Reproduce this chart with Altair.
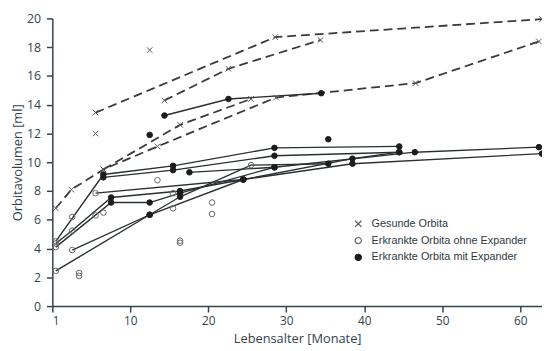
import altair as alt
import pandas as pd

# ---- data (months, volume ml) ----
# Healthy orbits (dashed lines)
h_series = ["H1", "H1", "H1",
            "H2", "H2", "H2",
            "H3", "H3", "H3", "H3", "H3", "H3", "H3",
            "H4", "H4", "H4"]
h_month = [6.0, 28.6, 62.8,
           14.4, 22.6, 34.4,
           1.4, 3.2, 6.9, 13.5, 28.7, 46.6, 62.4,
           6.9, 16.4, 25.5]
h_vol = [13.45, 18.7, 19.95,
         14.3, 16.5, 18.5,
         6.8, 8.1, 9.5, 11.1, 14.5, 15.5, 18.4,
         9.5, 12.6, 14.4]
h_iso_month = [6.0, 12.5]
h_iso_vol = [12.0, 17.8]

# Diseased orbits (solid lines); kind: o = ohne Expander, f = mit Expander
p_series = ["P1"] * 5 + ["P2"] * 7 + ["P3"] * 4 + ["P4"] * 7 + ["P5"] * 5 + ["P6"] * 5 + ["P7"] * 2 + ["P8"] * 2 + ["P9"] * 3
p_month = [1.4, 6.9, 15.5, 28.5, 44.5,
           1.4, 3.3, 7.8, 16.4, 24.5, 38.5, 44.5,
           6.9, 15.5, 28.5, 44.5,
           1.4, 7.8, 12.5, 16.4, 28.5, 46.5, 62.4,
           3.3, 12.5, 16.4, 25.5, 35.4,
           1.4, 12.5, 24.5, 38.5, 62.8,
           6.0, 24.5,
           17.6, 28.5,
           14.4, 22.6, 34.5]
p_vol = [4.5, 9.15, 9.75, 11.0, 11.1,
         4.35, 5.25, 7.55, 8.0, 8.8, 10.25, 10.7,
         8.95, 9.45, 10.45, 10.7,
         4.1, 7.2, 7.2, 7.85, 9.65, 10.7, 11.05,
         3.9, 6.35, 7.6, 9.8, 9.9,
         2.45, 6.35, 8.8, 9.9, 10.6,
         7.85, 8.8,
         9.3, 9.65,
         13.25, 14.4, 14.8]
p_kind = ["o", "f", "f", "f", "f",
          "o", "o", "f", "f", "f", "f", "f",
          "f", "f", "f", "f",
          "o", "f", "f", "f", "f", "f", "f",
          "o", "f", "f", "o", "f",
          "o", "f", "f", "f", "f",
          "o", "f",
          "f", "f",
          "f", "f", "f"]
# isolated points
o_iso_month = [3.3, 4.1, 4.1, 6.0, 6.9, 13.5, 15.5, 15.5, 16.4, 16.4, 20.5, 20.5]
o_iso_vol = [6.2, 2.3, 2.1, 6.3, 6.5, 8.75, 7.85, 6.8, 4.55, 4.4, 7.2, 6.4]
f_iso_month = [12.5, 35.4]
f_iso_vol = [11.9, 11.6]

LAB_H = "Gesunde Orbita"
LAB_O = "Erkrankte Orbita ohne Expander"
LAB_F = "Erkrankte Orbita mit Expander"

lines_h = pd.DataFrame({"s": h_series, "m": h_month, "v": h_vol})
lines_p = pd.DataFrame({"s": p_series, "m": p_month, "v": p_vol})

pts = pd.concat([
    pd.DataFrame({"m": h_month + h_iso_month, "v": h_vol + h_iso_vol, "k": LAB_H}),
    pd.DataFrame({"m": p_month, "v": p_vol,
                  "k": [LAB_O if k == "o" else LAB_F for k in p_kind]}),
    pd.DataFrame({"m": o_iso_month, "v": o_iso_vol, "k": LAB_O}),
    pd.DataFrame({"m": f_iso_month, "v": f_iso_vol, "k": LAB_F}),
], ignore_index=True)

AX = "#33434a"
FONT = "Open Sans"
LFONT = "Liberation Sans"

xscale = alt.Scale(domain=[1, 10, 62.8], range=[0, 79, 497], nice=False, zero=False)
yscale = alt.Scale(domain=[0, 20], nice=False, zero=True)

xenc = alt.X("m:Q", scale=xscale, title="Lebensalter [Monate]",
             axis=alt.Axis(values=[1, 10, 20, 30, 40, 50, 60], grid=False,
                           domainColor=AX, tickColor=AX, tickSize=6, labelColor=AX,
                           labelFontSize=12, labelFont=FONT, titleFont=FONT,
                           titleFontSize=13, titleFontWeight="normal", titleColor=AX,
                           labelPadding=4, titlePadding=6, domainWidth=1.5, tickWidth=1.5))
yenc = alt.Y("v:Q", scale=yscale, title="Orbitavolumen [ml]",
             axis=alt.Axis(values=list(range(0, 21, 2)), grid=False,
                           domainColor=AX, tickColor=AX, tickSize=6, labelColor=AX,
                           labelFontSize=12.5, labelFont=FONT, titleFont=FONT,
                           titleFontSize=13, titleFontWeight="normal", titleColor=AX,
                           labelPadding=6, titlePadding=2, domainWidth=1.5, tickWidth=1.5))

dashed = alt.Chart(lines_h).mark_line(strokeDash=[9, 5], strokeWidth=1.8, color="#3a3a3a").encode(
    x=xenc, y=yenc, detail="s:N")
solid = alt.Chart(lines_p).mark_line(strokeWidth=1.4, color="#2a2f31").encode(
    x=xenc, y=yenc, detail="s:N")

XPATH = "M-1,-1L1,1M-1,1L1,-1"
dom = [LAB_H, LAB_O, LAB_F]
legend = alt.Legend(title=None, orient="none", legendX=305, legendY=203,
                    labelFont=LFONT, labelFontSize=11, labelColor="#2e3a3f",
                    symbolStrokeWidth=1.2, symbolSize=40, rowPadding=4, labelOffset=8,
                    padding=0, labelLimit=0)
points = alt.Chart(pts).mark_point(strokeWidth=1, size=32, opacity=1).encode(
    x=xenc, y=yenc,
    shape=alt.Shape("k:N", scale=alt.Scale(domain=dom, range=[XPATH, "circle", "circle"]), legend=legend),
    fill=alt.Fill("k:N", scale=alt.Scale(domain=dom, range=["transparent", "transparent", "#1c1c1c"]), legend=legend),
    stroke=alt.Stroke("k:N", scale=alt.Scale(domain=dom, range=["#555555", "#666666", "#1c1c1c"]), legend=legend),
)

chart = alt.layer(dashed, solid, points).properties(
    width=497, height=292,
    autosize=alt.AutoSizeParams(type="none"),
    padding={"left": 45, "top": 8, "right": 0, "bottom": 43},
).configure_view(stroke=None)

chart.save("out.html", embed_options={"renderer": "svg", "actions": False})
